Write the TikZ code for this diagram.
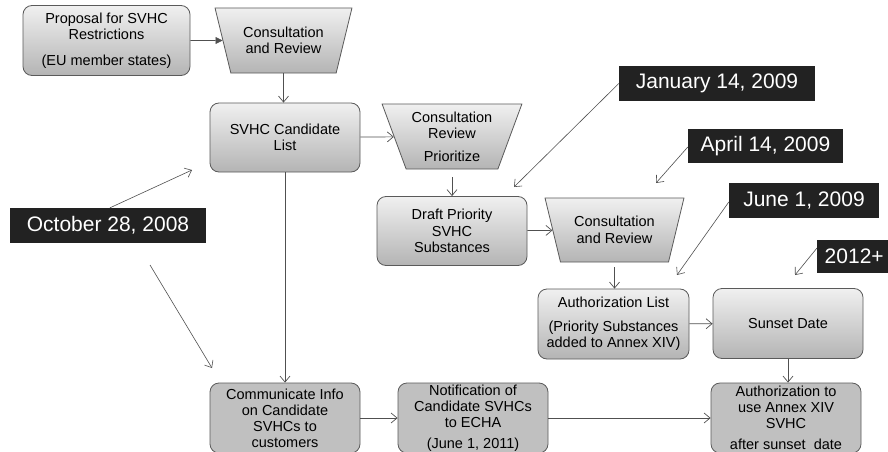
\documentclass[tikz,border=0pt]{standalone}
\usepackage{fontspec}
\setmainfont{Liberation Sans}
\usetikzlibrary{shapes.geometric,arrows.meta}
\definecolor{boxline}{HTML}{5A5A5A}
\definecolor{gtop}{HTML}{F0F0F0}
\definecolor{gbot}{HTML}{B4B4B4}
\definecolor{flatgray}{HTML}{C0C0C0}
\definecolor{labelfill}{HTML}{222222}
\definecolor{arrowgray}{HTML}{505050}
\tikzset{
  rbox/.style={draw=boxline, line width=0.8pt, rounded corners=9pt, top color=gtop, bottom color=gbot,
    minimum width=150pt, minimum height=70pt, inner sep=0pt, align=center,
    font=\fontsize{14.5}{16.5}\selectfont},
  fbox/.style={rbox, top color=flatgray, bottom color=flatgray, font=\fontsize{14.5}{16}\selectfont},
  trap/.style={draw=boxline, line width=0.8pt, trapezium, shape border rotate=180, trapezium stretches=true,
    top color=gtop, bottom color=gbot, inner sep=0pt, align=center,
    font=\fontsize{14.5}{16.5}\selectfont},
  datelabel/.style={fill=labelfill, text=white, inner sep=0pt, minimum height=35pt,
    font=\fontsize{21}{24}\selectfont},
  flow/.style={draw=arrowgray, line width=0.7pt, -{Straight Barb[length=6pt,width=10pt]}},
  flowfilled/.style={draw=arrowgray, line width=0.7pt, -{Triangle[length=7pt,width=7pt]}},
  datearrow/.style={draw=arrowgray, line width=0.6pt, -{Straight Barb[length=6pt,width=10pt]}},
}
\begin{document}
\begin{tikzpicture}[x=1pt,y=-1pt]
\useasboundingbox (0,0) rectangle (888,452);
\clip (0,0) rectangle (888,452);
\fill[white] (0,0) rectangle (888,452);

% boxes
\node[rbox, minimum width=167pt] (prop) at (106.5,40.5) {Proposal for SVHC\\Restrictions\\[9pt](EU member states)};
\node[trap, minimum width=137pt, minimum height=65pt, trapezium left angle=66, trapezium right angle=66] (trapA) at (283.5,40.5) {Consultation\\and Review};
\node[rbox, minimum height=69pt] (cand) at (285,137.5) {SVHC Candidate\\List};
\node[trap, minimum width=140pt, minimum height=65pt, trapezium left angle=67, trapezium right angle=67] (trapB) at (452,136.5) {Consultation\\Review\\[6pt]Prioritize};
\node[rbox, minimum height=69pt] (draft) at (452,231) {Draft Priority\\SVHC\\Substances};
\node[trap, minimum width=139pt, minimum height=64pt, trapezium left angle=67, trapezium right angle=67] (trapC) at (614.5,230) {Consultation\\and Review};
\node[rbox, minimum width=151pt] (auth) at (613.5,324) {Authorization List\\[7pt](Priority Substances\\added to Annex XIV)};
\node[rbox] (sunset) at (788,323.5) {Sunset Date};
\node[fbox] (comm) at (285,418) {Communicate Info\\on Candidate\\SVHCs to\\customers};
\node[fbox] (notif) at (473,418) {Notification of\\Candidate SVHCs\\to ECHA\\[5pt](June 1, 2011)};
\node[fbox] (authuse) at (786,418) {Authorization to\\use Annex XIV\\SVHC\\[5pt]after sunset\ \ date};

% date labels
\node[datelabel, minimum width=196pt] (oct) at (108,225.5) {October 28, 2008};
\node[datelabel, minimum width=196pt] (jan) at (717,83.5) {January 14, 2009};
\node[datelabel, minimum width=155pt, minimum height=34pt] (apr) at (765.5,146) {April 14, 2009};
\node[datelabel, minimum width=150pt] (jun) at (804,200.5) {June 1, 2009};
\node[datelabel, minimum width=80pt, minimum height=33pt, anchor=west] (yr) at (817,256.5) {\hspace*{-6pt}2012+};

% flow connectors
\draw[flowfilled] (prop) -- (trapA);
\draw[flow] (trapA.south) -- (trapA.south |- cand.north);
\draw[flow] (cand) -- (trapB);
\draw[flow, shorten <=8pt] (trapB.south) -- (trapB.south |- draft.north);
\draw[flow] (draft) -- (trapC);
\draw[flow, shorten <=5pt] (trapC.south) -- (trapC.south |- auth.north);
\draw[flow] (auth) -- (sunset);
\draw[flow] (sunset.south) -- (sunset.south |- authuse.north);
\draw[flow] (cand) -- (comm);
\draw[flow] (comm) -- (notif);
\draw[flow] (notif) -- (authuse);

% date pointers
\coordinate (octT) at (192,170);
\coordinate (octS) at (150,265);
\coordinate (octE) at (212,368);
\coordinate (janT) at (514,187);
\coordinate (aprT) at (656,183);
\coordinate (junT) at (677,275);
\coordinate (yrT) at (795,275);
\draw[datearrow] ([xshift=2pt]oct.north) -- (octT);
\draw[datearrow] (octS) -- (octE);
\draw[datearrow] (jan.west) -- (janT);
\draw[datearrow] ([yshift=-1pt]apr.west) -- (aprT);
\draw[datearrow] ([yshift=-1.5pt]jun.west) -- (junT);
\draw[datearrow] ([yshift=8.5pt]yr.west) -- (yrT);
\end{tikzpicture}
\end{document}
